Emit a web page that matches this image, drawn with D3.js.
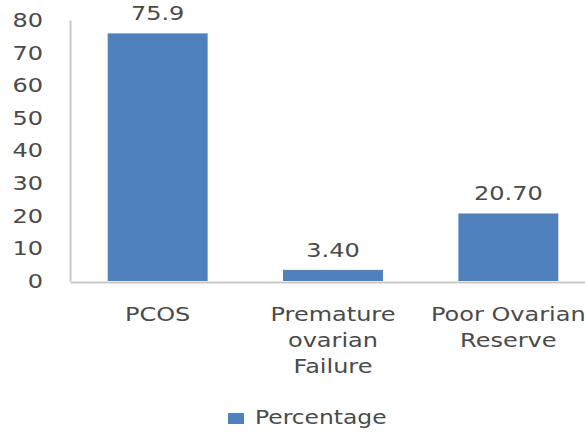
<!DOCTYPE html>
<html>
<head>
<meta charset="utf-8">
<script src="https://cdn.jsdelivr.net/npm/d3@7"></script>
<style>
  html, body { margin: 0; padding: 0; background: #fff; }
  svg { display: block; }
  text { font-family: "DejaVu Sans", Verdana, sans-serif; fill: #4a4a4a; }
</style>
</head>
<body>
<svg id="chart" width="585" height="434"></svg>
<script>
// Categories (multi-line labels) and their percentages
const categories = ["PCOS", "Premature ovarian Failure", "Poor Ovarian Reserve"];
const categoryLines = [["PCOS"], ["Premature", "ovarian", "Failure"], ["Poor Ovarian", "Reserve"]];
const values = [75.9, 3.40, 20.70];
const valueLabels = ["75.9", "3.40", "20.70"];
const yTicks = [0, 10, 20, 30, 40, 50, 60, 70, 80];
const seriesName = "Percentage";

const svg = d3.select("#chart");
const barColor = "#4f81bd";
const axisColor = "#c8c8c8";
const textColor = "#4a4a4a";
const fontSize = 20;
const sx = 1.2; // wide letterforms

const x = d3.scaleBand().domain(categories).range([70, 596]).paddingInner(0.43).paddingOuter(0.215);
const y = d3.scaleLinear().domain([0, 80]).range([281, 20]);

// y axis: line only, tick labels at left
const yAxis = svg.append("g")
  .attr("transform", "translate(70,0)")
  .call(d3.axisLeft(y).tickValues(yTicks).tickSize(0));
yAxis.select(".domain").attr("stroke", axisColor).attr("stroke-width", 2);
yAxis.selectAll("text")
  .attr("x", 0)
  .attr("transform", `translate(-27,0) scale(${sx},1)`)
  .attr("font-size", fontSize)
  .attr("fill", textColor)
  .style("font-family", "DejaVu Sans, sans-serif");

// bars
svg.append("g").selectAll("rect")
  .data(values)
  .join("rect")
  .attr("x", (d, i) => x(categories[i]))
  .attr("width", x.bandwidth())
  .attr("y", d => y(d))
  .attr("height", d => y(0) - y(d))
  .attr("fill", barColor);

// x axis baseline
const xAxis = svg.append("g")
  .attr("transform", `translate(0,${y(0) + 1})`)
  .call(d3.axisBottom(x).tickSize(0).tickFormat(""));
xAxis.select(".domain").attr("stroke", axisColor).attr("stroke-width", 2);

// value labels above bars
svg.append("g").selectAll("text")
  .data(values)
  .join("text")
  .attr("transform", (d, i) => `translate(${x(categories[i]) + x.bandwidth() / 2},${y(d) - 13}) scale(${sx},1)`)
  .attr("text-anchor", "middle")
  .attr("font-size", fontSize)
  .text((d, i) => valueLabels[i]);

// category labels
const catG = svg.append("g");
categories.forEach((c, i) => {
  const t = catG.append("text")
    .attr("transform", `translate(${x(c) + x.bandwidth() / 2},321) scale(${sx},1)`)
    .attr("text-anchor", "middle")
    .attr("font-size", fontSize);
  categoryLines[i].forEach((line, j) => {
    t.append("tspan")
      .attr("x", 0)
      .attr("dy", j === 0 ? 0 : 26)
      .text(line);
  });
});

// legend
const legend = svg.append("g");
legend.append("rect").attr("x", 228).attr("y", 413).attr("width", 16).attr("height", 11).attr("fill", barColor);
legend.append("text")
  .attr("transform", `translate(255,424) scale(1.17,1)`)
  .attr("font-size", fontSize)
  .text(seriesName);
</script>
</body>
</html>
